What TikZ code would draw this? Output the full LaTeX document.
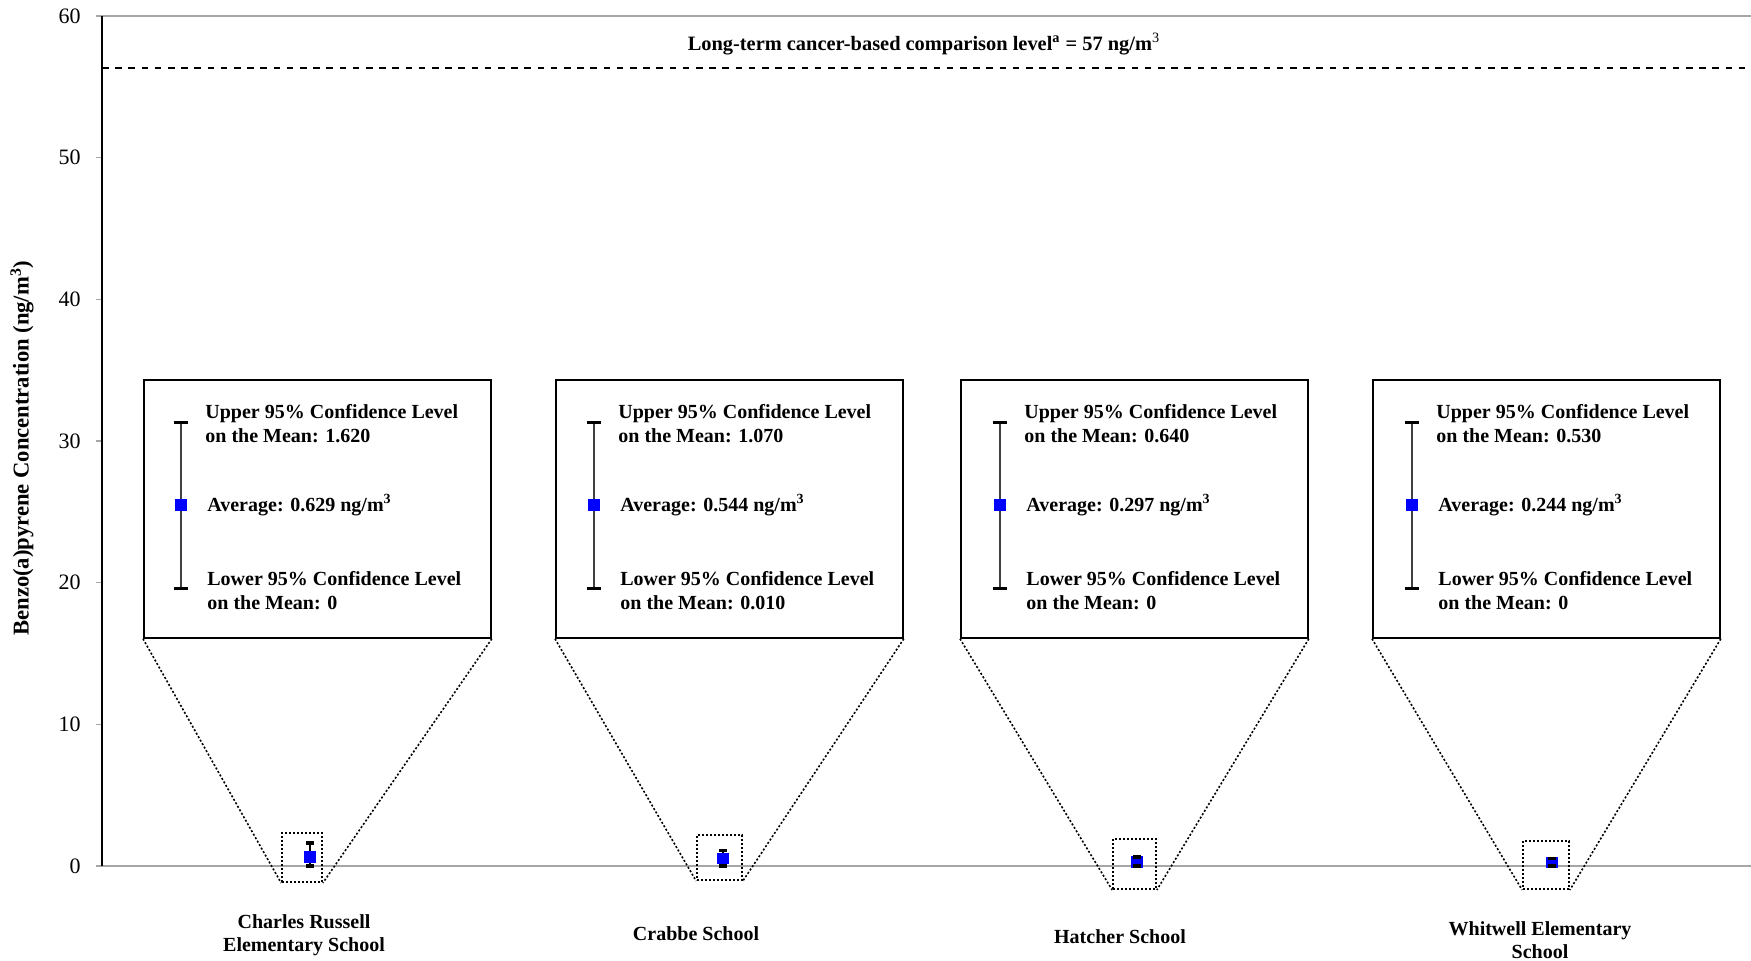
\documentclass[tikz,border=0pt]{standalone}
\usepackage{fontspec}
\setmainfont{Liberation Serif}
\usetikzlibrary{positioning}

\begin{document}
\begin{tikzpicture}[x=0.5pt,y=-0.5pt,
  grid line/.style={draw=black!35,line width=0.6pt},
  axis line/.style={draw=black,line width=0.8pt},
  limit line/.style={draw=black,line width=1pt,dash pattern=on 3.3pt off 3.3pt},
  tick label/.style={anchor=east,inner sep=0pt,font=\fontsize{11}{13}\selectfont},
  limit label/.style={inner sep=0pt,font=\fontsize{10.2}{12}\selectfont\bfseries},
  axis title/.style={rotate=90,inner sep=0pt,font=\fontsize{11.3}{13}\selectfont\bfseries},
  site label/.style={align=center,inner sep=0pt,font=\fontsize{10}{11.5}\selectfont\bfseries},
  call box/.style={draw,line width=0.9pt,anchor=north west,minimum width=173.5pt,minimum height=129pt,inner sep=0pt},
  zoom box/.style={draw,line width=0.9pt,dash pattern=on 1pt off 1pt,inner sep=0pt},
  zoom line/.style={line width=0.8pt,dash pattern=on 1pt off 1pt},
  note text/.style={anchor=west,align=left,inner sep=0pt,font=\fontsize{10}{12}\selectfont\bfseries},
  bar line/.style={draw=black!75,line width=1.1pt},
  bar end/.style={draw=black,line width=1.5pt},
  mean mark/.style={fill=blue,minimum size=5.8pt,inner sep=0pt},
  small bar/.style={draw=black,line width=0.6pt},
  small end/.style={draw=black,line width=1.6pt}]
\useasboundingbox (0,0) rectangle (1751,960);

% axes and grid
\coordinate (o) at (102,866);
\coordinate (ymax) at (102,16);
\coordinate (xmax) at (1751,866);
\coordinate (ymaxr) at (1751,16);
\draw[grid line] (o) -- (xmax);
\draw[grid line] (ymax) -- (ymaxr);
\draw[grid line] (96,866) -- (102,866);
\draw[grid line] (96,724.3) -- (102,724.3);
\draw[grid line] (96,582.7) -- (102,582.7);
\draw[grid line] (96,441) -- (102,441);
\draw[grid line] (96,299.3) -- (102,299.3);
\draw[grid line] (96,157.7) -- (102,157.7);
\draw[grid line] (96,16) -- (102,16);
\draw[axis line] (o) -- (ymax);

\node[tick label] (t0) at (81,866) {0};
\node[tick label] (t10) at (81,724.3) {10};
\node[tick label] (t20) at (81,582.7) {20};
\node[tick label] (t30) at (81,441) {30};
\node[tick label] (t40) at (81,299.3) {40};
\node[tick label] (t50) at (81,157.7) {50};
\node[tick label] (t60) at (81,16) {60};

\node[axis title] (ytitle) at (22,448) {Benzo(a)pyrene Concentration (ng/m\textsuperscript{3})};

% comparison level
\coordinate (limleft) at (102,68);
\coordinate (limright) at (1747,68);
\draw[limit line] (limleft) -- (limright);
\node[limit label] (limtxt) at (924,44) {Long-term cancer-based comparison level\textsuperscript{a} = 57 ng/m\textsuperscript{\mdseries 3}};

% site names
\node[site label] (site1) at (304,935.5) {Charles Russell\\Elementary School};
\node[site label] (site2) at (696,934) {Crabbe School};
\node[site label] (site3) at (1120,936.5) {Hatcher School};
\node[site label] (site4) at (1540,940) {Whitwell Elementary\\School};

% Charles Russell
\node[zoom box,minimum width=20pt,minimum height=24.5pt] (zb1) at (302,857.5) {};
\draw[small bar] (310,843) -- (310,866);
\node[mean mark] (m1) at (310,857.1) {};
\draw[small end] (306.3,843) -- (313.7,843);
\draw[small end] (306.3,866) -- (313.7,866);
\node[call box] (box1) at (143,379) {};
\coordinate (up1) at (181,422);
\coordinate (av1) at (181,505);
\coordinate (lo1) at (181,588);
\draw[bar line] (up1) -- (lo1);
\draw[bar end] ([xshift=-3.7pt]up1) -- ([xshift=3.7pt]up1);
\draw[bar end] ([xshift=-3.7pt]lo1) -- ([xshift=3.7pt]lo1);
\node[mean mark] (a1) at (av1) {};
\node[note text,right=12pt of up1,yshift=-1pt] (hi1) {Upper 95\% Confidence Level\\on the Mean: 1.620};
\node[note text,right=13pt of av1] (mid1) {Average: 0.629 ng/m\textsuperscript{3}};
\node[note text,right=13pt of lo1,yshift=-1.5pt] (low1) {Lower 95\% Confidence Level\\on the Mean: 0};
\draw[zoom line] (box1.south west) -- (zb1.south west);
\draw[zoom line] (box1.south east) -- (zb1.south east);

% Crabbe
\node[zoom box,minimum width=22.5pt,minimum height=22.5pt] (zb2) at (719.5,857.5) {};
\draw[small bar] (723,850.8) -- (723,865.9);
\node[mean mark] (m2) at (723,858.3) {};
\draw[small end] (719.3,850.8) -- (726.7,850.8);
\draw[small end] (719.3,865.9) -- (726.7,865.9);
\node[call box] (box2) at (555,379) {};
\coordinate (up2) at (594,422);
\coordinate (av2) at (594,505);
\coordinate (lo2) at (594,588);
\draw[bar line] (up2) -- (lo2);
\draw[bar end] ([xshift=-3.7pt]up2) -- ([xshift=3.7pt]up2);
\draw[bar end] ([xshift=-3.7pt]lo2) -- ([xshift=3.7pt]lo2);
\node[mean mark] (a2) at (av2) {};
\node[note text,right=12pt of up2,yshift=-1pt] (hi2) {Upper 95\% Confidence Level\\on the Mean: 1.070};
\node[note text,right=13pt of av2] (mid2) {Average: 0.544 ng/m\textsuperscript{3}};
\node[note text,right=13pt of lo2,yshift=-1.5pt] (low2) {Lower 95\% Confidence Level\\on the Mean: 0.010};
\draw[zoom line] (box2.south west) -- (zb2.south west);
\draw[zoom line] (box2.south east) -- (zb2.south east);

% Hatcher
\node[zoom box,minimum width=21.5pt,minimum height=25pt] (zb3) at (1134.5,864) {};
\draw[small bar] (1137,856.9) -- (1137,866);
\node[mean mark] (m3) at (1137,861.8) {};
\draw[small end] (1133.3,856.9) -- (1140.7,856.9);
\draw[small end] (1133.3,866) -- (1140.7,866);
\node[call box] (box3) at (960,379) {};
\coordinate (up3) at (1000,422);
\coordinate (av3) at (1000,505);
\coordinate (lo3) at (1000,588);
\draw[bar line] (up3) -- (lo3);
\draw[bar end] ([xshift=-3.7pt]up3) -- ([xshift=3.7pt]up3);
\draw[bar end] ([xshift=-3.7pt]lo3) -- ([xshift=3.7pt]lo3);
\node[mean mark] (a3) at (av3) {};
\node[note text,right=12pt of up3,yshift=-1pt] (hi3) {Upper 95\% Confidence Level\\on the Mean: 0.640};
\node[note text,right=13pt of av3] (mid3) {Average: 0.297 ng/m\textsuperscript{3}};
\node[note text,right=13pt of lo3,yshift=-1.5pt] (low3) {Lower 95\% Confidence Level\\on the Mean: 0};
\draw[zoom line] (box3.south west) -- (zb3.south west);
\draw[zoom line] (box3.south east) -- (zb3.south east);

% Whitwell
\node[zoom box,minimum width=23pt,minimum height=24pt] (zb4) at (1546,865) {};
\draw[small bar] (1552,858.5) -- (1552,866);
\node[mean mark] (m4) at (1552,862.5) {};
\draw[small end] (1548.3,858.5) -- (1555.7,858.5);
\draw[small end] (1548.3,866) -- (1555.7,866);
\node[call box] (box4) at (1372,379) {};
\coordinate (up4) at (1412,422);
\coordinate (av4) at (1412,505);
\coordinate (lo4) at (1412,588);
\draw[bar line] (up4) -- (lo4);
\draw[bar end] ([xshift=-3.7pt]up4) -- ([xshift=3.7pt]up4);
\draw[bar end] ([xshift=-3.7pt]lo4) -- ([xshift=3.7pt]lo4);
\node[mean mark] (a4) at (av4) {};
\node[note text,right=12pt of up4,yshift=-1pt] (hi4) {Upper 95\% Confidence Level\\on the Mean: 0.530};
\node[note text,right=13pt of av4] (mid4) {Average: 0.244 ng/m\textsuperscript{3}};
\node[note text,right=13pt of lo4,yshift=-1.5pt] (low4) {Lower 95\% Confidence Level\\on the Mean: 0};
\draw[zoom line] (box4.south west) -- (zb4.south west);
\draw[zoom line] (box4.south east) -- (zb4.south east);
\end{tikzpicture}
\end{document}
